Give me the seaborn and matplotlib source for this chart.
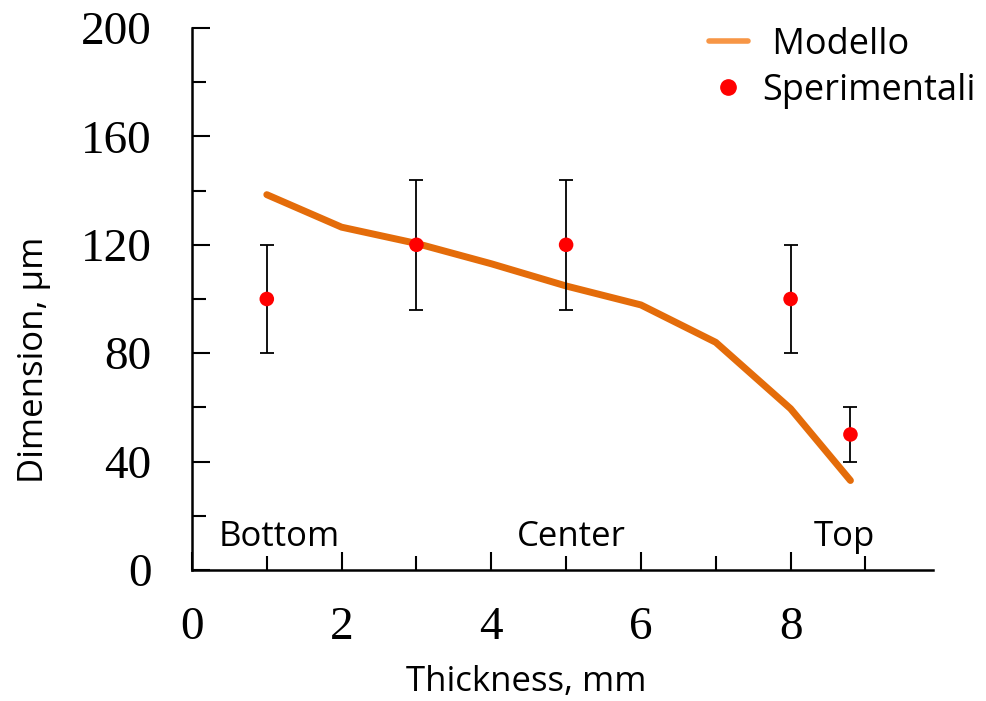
import numpy as np
import pandas as pd
import matplotlib
matplotlib.use("Agg")
import matplotlib.pyplot as plt
from matplotlib.ticker import MultipleLocator
from matplotlib.lines import Line2D
import seaborn as sns

# model curve
model_x = [1, 2, 3, 4, 5, 6, 7, 8, 8.8]
model_y = [138.5, 126.5, 120.5, 113, 104.8, 97.8, 84, 59.5, 33]

# experimental points with error
exp_x = [1, 3, 5, 8, 8.8]
exp_y = [100, 120, 120, 100, 50]
exp_err = [20, 24, 24, 20, 10]

zones = ["Bottom", "Center", "Top"]
zone_x = [1.17, 5.07, 8.72]

sns.set_style("white")
plt.rcParams["text.color"] = "black"
plt.rcParams["axes.labelcolor"] = "black"
plt.rcParams["xtick.color"] = "black"
plt.rcParams["ytick.color"] = "black"
sans = ["Open Sans", "DejaVu Sans"]
serif = ["Liberation Serif", "DejaVu Serif"]

fig = plt.figure(figsize=(9.86, 7.01), dpi=100)
ax = fig.add_axes([0.1947, 0.187, 0.7513, 0.773])

model = pd.DataFrame({"x": model_x, "y": model_y})
sns.lineplot(data=model, x="x", y="y", ax=ax, color="#E46C0A", linewidth=5,
             solid_capstyle="round", solid_joinstyle="round")

ax.errorbar(exp_x, exp_y, yerr=exp_err, fmt="none", ecolor="black",
            elinewidth=1.3, capsize=5, capthick=1.3, zorder=3)
sns.scatterplot(x=exp_x, y=exp_y, ax=ax, color="#FF0000", s=110,
                edgecolor="none", zorder=4)

for name, zx in zip(zones, zone_x):
    ax.text(zx, 12, name, ha="center", va="center", fontsize=25, family=sans)

ax.set_xlim(0, 9.9)
ax.set_ylim(0, 200)
ax.xaxis.set_major_locator(MultipleLocator(2))
ax.xaxis.set_minor_locator(MultipleLocator(1))
ax.yaxis.set_major_locator(MultipleLocator(40))
ax.yaxis.set_minor_locator(MultipleLocator(20))
ax.tick_params(which="both", bottom=True, left=True, direction="in", width=1.5)
ax.tick_params(which="major", length=13, labelsize=34)
ax.tick_params(which="minor", length=10)
ax.tick_params(axis="y", which="major", pad=29)
ax.tick_params(axis="x", which="major", pad=26)
for lab in ax.get_xticklabels() + ax.get_yticklabels():
    lab.set_family(serif)

for side in ["top", "right"]:
    ax.spines[side].set_visible(False)
for side in ["left", "bottom"]:
    ax.spines[side].set_color("black")
    ax.spines[side].set_linewidth(1.8)

ax.set_xlabel("Thickness, mm", fontsize=25, family=sans)
ax.set_ylabel("Dimension, µm", fontsize=25, family=sans)
ax.xaxis.set_label_coords(0.451, -0.176)
ax.yaxis.set_label_coords(-0.19, 0.387)

handles = [
    Line2D([], [], color="#F79646", linewidth=4),
    Line2D([], [], color="#FF0000", marker="o", linestyle="none", markersize=11),
]
fig.legend(handles, [" Modello", "Sperimentali"], loc="upper right",
           bbox_to_anchor=(1.023, 1.008), frameon=False, handlelength=1.1,
           handletextpad=0.4, labelspacing=0.28, prop={"family": sans, "size": 26})

fig.savefig("out.png", dpi=100)
